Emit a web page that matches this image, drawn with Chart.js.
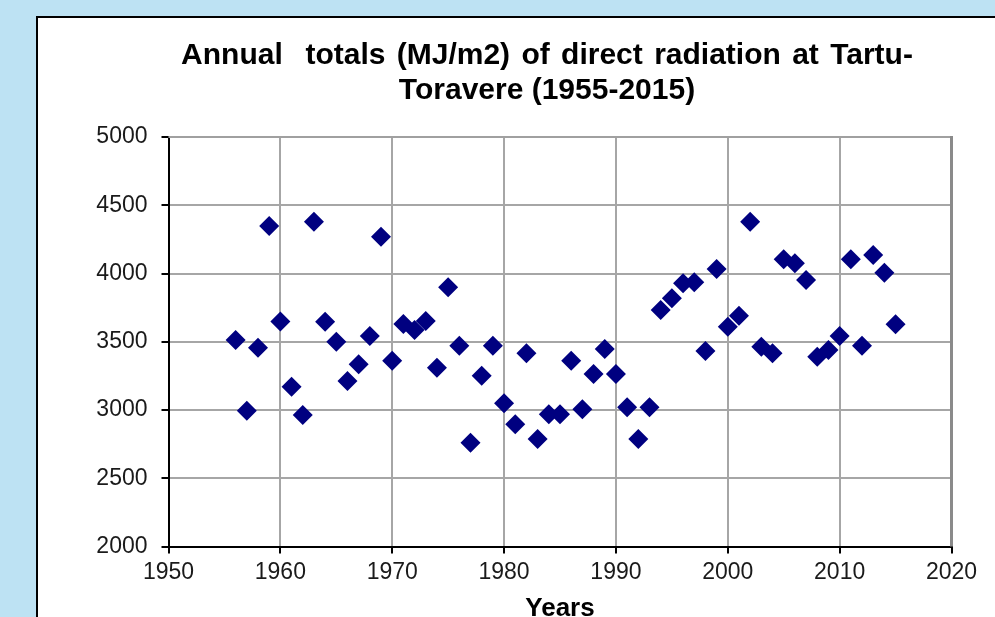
<!DOCTYPE html>
<html>
<head>
<meta charset="utf-8">
<script src="https://cdn.jsdelivr.net/npm/chart.js@4.4.1/dist/chart.umd.min.js"></script>
<style>
    html, body { margin: 0; padding: 0; overflow: hidden; }
    body { background: #bde2f3; width: 995px; height: 617px; position: relative; }
    .panel {
        position: absolute; left: 36px; top: 16px; width: 1000px; height: 700px;
        background: #fff; border-left: 2px solid #000; border-top: 2px solid #000;
    }
    .wrap { position: absolute; left: 0; top: 0; width: 995px; height: 640px; }
</style>
</head>
<body>
<div class="panel"></div>
<div class="wrap"><canvas id="scatterChart"></canvas></div>
<script>
    const years = [1956, 1957, 1958, 1959, 1960, 1961, 1962, 1963, 1964, 1965,
        1966, 1967, 1968, 1969, 1970, 1971, 1972, 1973, 1974, 1975,
        1976, 1977, 1978, 1979, 1980, 1981, 1982, 1983, 1984, 1985,
        1986, 1987, 1988, 1989, 1990, 1991, 1992, 1993, 1994, 1995,
        1996, 1997, 1998, 1999, 2000, 2001, 2002, 2003, 2004, 2005,
        2006, 2007, 2008, 2009, 2010, 2011, 2012, 2013, 2014, 2015];
    const totals = [3513, 2995, 3456, 4348, 3648, 3171, 2963, 4380, 3647, 3500,
        3212, 3335, 3542, 4270, 3361, 3630, 3586, 3652, 3310, 3899,
        3471, 2760, 3251, 3471, 3049, 2895, 3415, 2788, 2968, 2968,
        3361, 3005, 3264, 3447, 3264, 3020, 2788, 3020, 3733, 3818,
        3928, 3935, 3432, 4033, 3610, 3691, 4380, 3464, 3415, 4104,
        4075, 3952, 3390, 3440, 3542, 4104, 3471, 4136, 4006, 3628];
    const xTicks = [1950, 1960, 1970, 1980, 1990, 2000, 2010, 2020];
    const yTicks = [2000, 2500, 3000, 3500, 4000, 4500, 5000];
    const titleLines = ['Annual  totals (MJ/m2) of direct radiation at Tartu-', 'Toravere (1955-2015)'];

    const font = "'Liberation Sans', Arial, sans-serif";

    // two-line title, centred a bit left of the plot centre like the original
    const chartTitle = {
        id: 'chartTitle',
        afterDraw(chart) {
            const { ctx, chartArea: a } = chart;
            const cx = a.left + 378.5;
            ctx.save();
            ctx.fillStyle = '#000';
            ctx.font = 'bold 30px ' + font;
            ctx.textAlign = 'center';
            ctx.textBaseline = 'middle';
            ctx.wordSpacing = '3px';
            ctx.fillText(titleLines[0], cx, a.top - 81);
            ctx.wordSpacing = '0px';
            ctx.fillText(titleLines[1], cx, a.top - 46);
            ctx.restore();
        }
    };

    // gray frame on the top/right of the plot area
    const frame = {
        id: 'frame',
        afterDraw(chart) {
            const { ctx, chartArea: a } = chart;
            ctx.save();
            ctx.strokeStyle = '#a0a0a0';
            ctx.lineWidth = 2;
            ctx.beginPath();
            ctx.moveTo(a.left, a.top);
            ctx.lineTo(a.right, a.top);
            ctx.stroke();
            ctx.strokeStyle = '#8a8a8a';
            ctx.lineWidth = 3;
            ctx.beginPath();
            ctx.moveTo(a.right, a.top - 1);
            ctx.lineTo(a.right, a.bottom);
            ctx.stroke();
            ctx.restore();
        }
    };

    const ctx = document.getElementById('scatterChart').getContext('2d');
    new Chart(ctx, {
        type: 'scatter',
        data: {
            datasets: [{
                data: years.map((y, i) => ({ x: y, y: totals[i] })),
                pointStyle: 'rectRot',
                pointRadius: 10,
                pointBackgroundColor: '#000080',
                pointBorderColor: '#000080',
                pointBorderWidth: 0
            }]
        },
        options: {
            responsive: true,
            maintainAspectRatio: false,
            animation: false,
            layout: { padding: { left: 0, right: 43.5, top: 137, bottom: 0 } },
            plugins: {
                legend: { display: false },
                tooltip: { enabled: false },
                title: { display: false }
            },
            scales: {
                x: {
                    type: 'linear',
                    min: 1950, max: 2020,
                    afterBuildTicks: s => { s.ticks = xTicks.map(v => ({ value: v })); },
                    afterFit: s => { s.height = 93.5; },
                    grid: { color: '#a6a6a6', lineWidth: 2, tickColor: '#000', tickLength: 7 },
                    border: { color: '#000', width: 2 },
                    ticks: { color: '#1a1a1a', padding: 5, font: { family: font, size: 23 }, callback: v => String(v) },
                    title: {
                        display: true, text: 'Years', color: '#000',
                        font: { family: font, size: 26, weight: 'bold', lineHeight: 1.2 },
                        padding: { top: 0, bottom: 15.4 }
                    }
                },
                y: {
                    min: 2000, max: 5000,
                    afterBuildTicks: s => { s.ticks = yTicks.map(v => ({ value: v })); },
                    afterFit: s => { s.width = 168.5; },
                    grid: { color: '#a6a6a6', lineWidth: 2, tickColor: '#000', tickLength: 7 },
                    border: { color: '#000', width: 2 },
                    ticks: { color: '#1a1a1a', padding: 14, font: { family: font, size: 23 }, callback: v => String(v) }
                }
            }
        },
        plugins: [frame, chartTitle]
    });
</script>
</body>
</html>
